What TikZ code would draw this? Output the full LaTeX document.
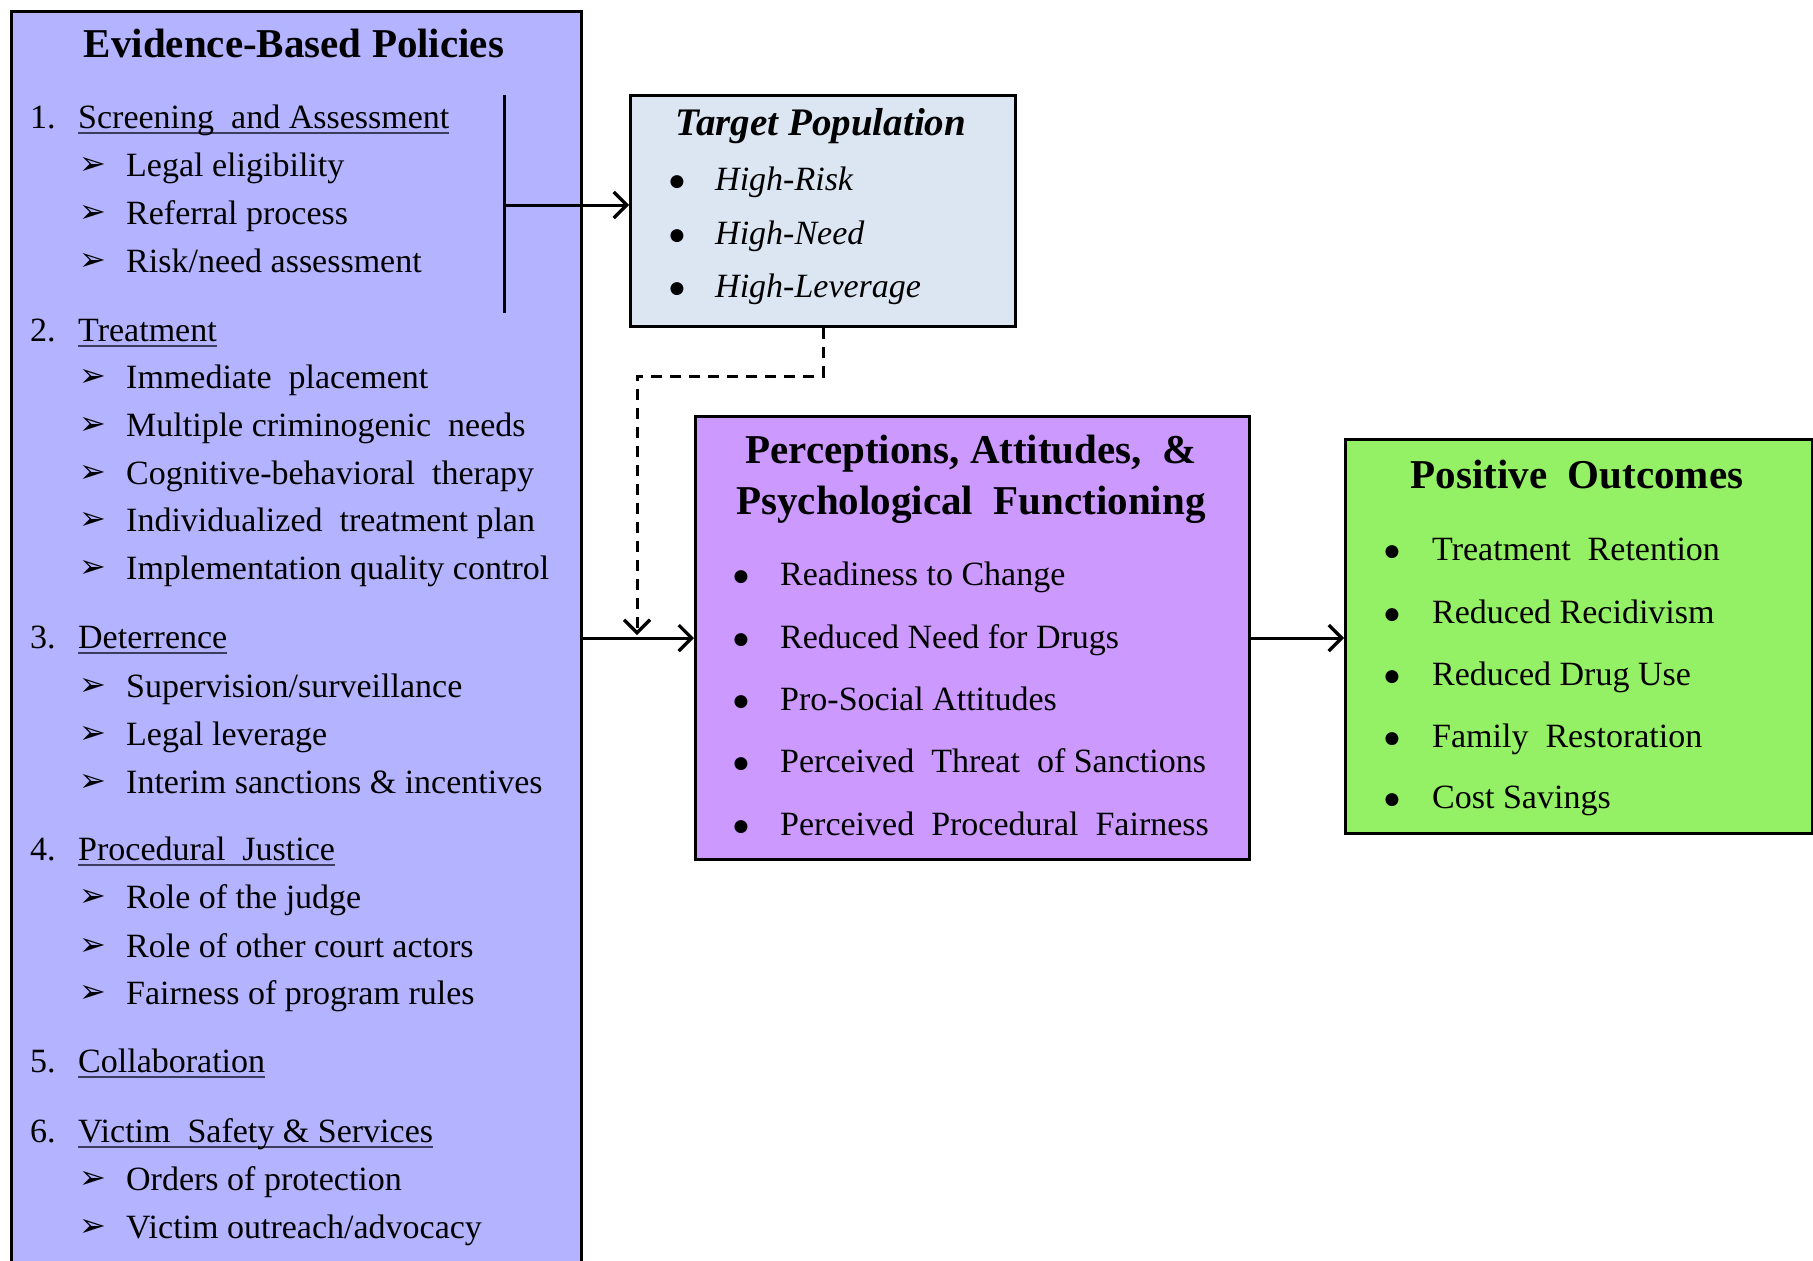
\documentclass[tikz,border=0pt]{standalone}
\usepackage{fontspec}
\setmainfont{Liberation Serif}
\newfontfamily\symfont{DejaVu Sans}
\usetikzlibrary{arrows.meta}
\definecolor{ebpfill}{RGB}{179,179,255}
\definecolor{tpfill}{RGB}{220,230,242}
\definecolor{pffill}{RGB}{204,153,255}
\definecolor{pofill}{RGB}{148,240,100}
\definecolor{ulcol}{RGB}{60,60,95}
\newcommand\hdul[1]{\leavevmode\setbox0\hbox{#1}\rlap{\textcolor{ulcol}{\rule[-6pt]{\wd0}{2.4pt}}}\box0}
\newcommand\arrmark{\raisebox{2pt}{\symfont\fontsize{32}{32}\selectfont ➢}}
\newcommand\bulmark{\raisebox{4pt}{\symfont\fontsize{17}{17}\selectfont ●}}
\begin{document}
\begin{tikzpicture}[x=1pt,y=-1pt,
  box/.style={draw=black, line width=3.2pt, inner sep=0pt, anchor=north west},
  txt/.style={anchor=base west, inner sep=0pt, font=\fontsize{34}{40}\selectfont},
  itxt/.style={txt, font=\fontsize{34}{40}\selectfont\itshape},
  bul/.style={anchor=base, inner sep=0pt},
  ttl/.style={anchor=base, inner sep=0pt, font=\fontsize{41}{46}\selectfont\bfseries},
  arr/.style={line width=3pt, -{Straight Barb[length=13pt,width=26pt,line width=3.2pt]}},
]
\useasboundingbox (0,0) rectangle (1813,1261);
\clip (0,0) rectangle (1813,1261);

% ---------- Evidence-Based Policies ----------
\node[box, fill=ebpfill, minimum width=570pt, minimum height=1251pt] (ebp) at (10,10) {};
\node[ttl] (ebpT) at (294,57) {Evidence-Based Policies};

\foreach \k/\y/\t in {1/128/{Screening\ \ and Assessment},
                      2/341/{Treatment},
                      3/648/{Deterrence},
                      4/860/{Procedural\ \ Justice},
                      5/1072/{Collaboration},
                      6/1142/{Victim\ \ Safety \& Services}}{
  \node[txt] (num\k) at (30,\y) {\k.};
  \node[txt] (head\k) at (78,\y) {\hdul{\t}};
}

\foreach \k/\y/\t in {a/176/{Legal eligibility},
                      b/224/{Referral process},
                      c/272/{Risk/need assessment},
                      d/388/{Immediate\ \ placement},
                      e/436/{Multiple criminogenic\ \ needs},
                      f/484/{Cognitive-behavioral\ \ therapy},
                      g/531/{Individualized\ \ treatment plan},
                      h/579/{Implementation quality control},
                      i/697/{Supervision/surveillance},
                      j/745/{Legal leverage},
                      k/793/{Interim sanctions \& incentives},
                      l/908/{Role of the judge},
                      m/957/{Role of other court actors},
                      n/1004/{Fairness of program rules},
                      o/1190/{Orders of protection},
                      p/1238/{Victim outreach/advocacy}}{
  \node[txt] (mk\k) at (79,\y) {\arrmark};
  \node[txt] (it\k) at (126,\y) {\t};
}

% ---------- Target Population ----------
\node[box, fill=tpfill, minimum width=385pt, minimum height=231pt] (tp) at (629,94) {};
\node[ttl, font=\fontsize{39}{44}\selectfont\bfseries\itshape] (tpT) at (821,135) {Target Population};
\foreach \k/\y/\t in {1/190/{High-Risk}, 2/244/{High-Need}, 3/297/{High-Leverage}}{
  \node[bul] (tpb\k) at (677,\y) {\bulmark};
  \node[itxt] (tpi\k) at (715,\y) {\t};
}

% ---------- Perceptions ----------
\node[box, fill=pffill, minimum width=554pt, minimum height=443pt] (pf) at (694,415) {};
\node[ttl] (pfT1) at (971,463) {Perceptions, Attitudes,\ \ \&};
\node[ttl] (pfT2) at (971,514) {Psychological\ \ Functioning};
\foreach \k/\y/\t in {1/585/{Readiness to Change},
                      2/648/{Reduced Need for Drugs},
                      3/710/{Pro-Social Attitudes},
                      4/772/{Perceived\ \ Threat\ \ of Sanctions},
                      5/835/{Perceived\ \ Procedural\ \ Fairness}}{
  \node[bul] (pfb\k) at (741,\y) {\bulmark};
  \node[txt] (pfi\k) at (780,\y) {\t};
}

% ---------- Positive Outcomes ----------
\node[box, fill=pofill, minimum width=467pt, minimum height=394pt] (po) at (1344,438) {};
\node[ttl] (poT) at (1577,488) {Positive\ \ Outcomes};
\foreach \k/\y/\t in {1/560/{Treatment\ \ Retention},
                      2/623/{Reduced Recidivism},
                      3/685/{Reduced Drug Use},
                      4/747/{Family\ \ Restoration},
                      5/808/{Cost Savings}}{
  \node[bul] (pob\k) at (1392,\y) {\bulmark};
  \node[txt] (poi\k) at (1432,\y) {\t};
}

% ---------- Connectors ----------
\coordinate (brT) at (504,95);
\coordinate (brB) at (504,313);
\coordinate (brM) at (504,205);
\draw[line width=3pt] (brT) -- (brB);
\draw[arr] (brM) -- (brM -| tp.west);

\draw[arr] (ebp.east |- 0,638) -- (pf.west |- 0,638);
\draw[arr] (pf.east |- 0,638) -- (po.west |- 0,638);

\coordinate (dashEnd) at (637,635);
\draw[arr, dash pattern=on 11pt off 8pt] (tp.south) -- ++(0,48) -| (dashEnd);
\end{tikzpicture}
\end{document}
